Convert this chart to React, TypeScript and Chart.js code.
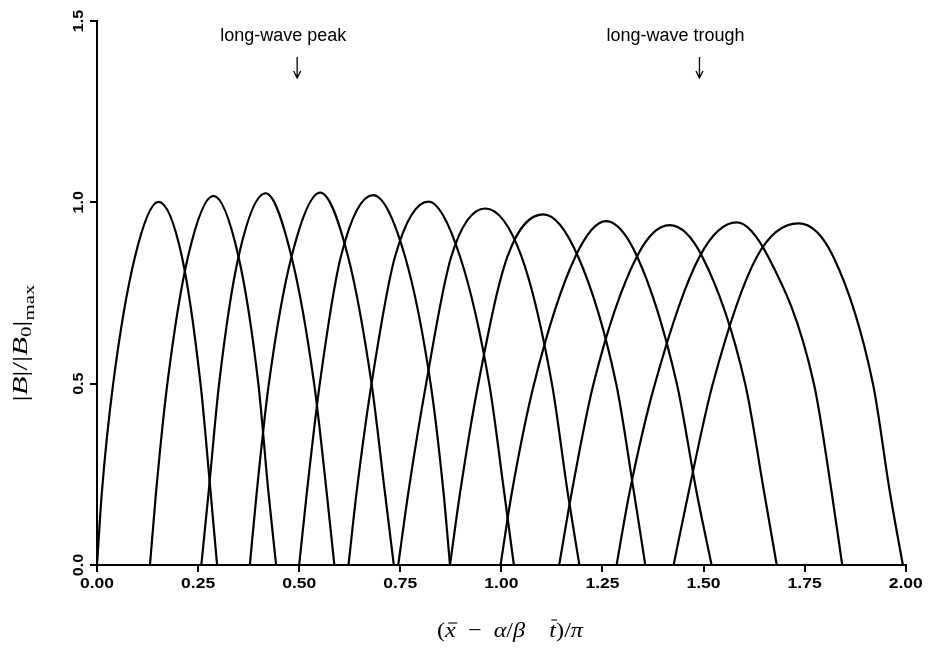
import React, { useEffect, useRef } from "react";
import { Chart, registerables } from "chart.js";

Chart.register(...registerables);

// ---- axis ticks ----
const xTicks = [0, 0.25, 0.5, 0.75, 1.0, 1.25, 1.5, 1.75, 2.0];
const xTickLabels = ["0.00", "0.25", "0.50", "0.75", "1.00", "1.25", "1.50", "1.75", "2.00"];
const yTicks = [0, 0.5, 1.0, 1.5];
const yTickLabels = ["0.0", "0.5", "1.0", "1.5"];

// ---- curve readings (12 arches) ----
// heights at which the rising / falling sides were read
const levels = [0, 0.2, 0.5, 0.85];
const riseX0 = [0.0, 0.131, 0.258, 0.378, 0.5, 0.622, 0.745, 0.873, 0.998, 1.143, 1.285, 1.426];
const riseX20 = [0.012, 0.146, 0.276, 0.395, 0.519, 0.642, 0.77, 0.898, 1.026, 1.174, 1.317, 1.463];
const riseX50 = [0.04, 0.174, 0.302, 0.425, 0.551, 0.679, 0.814, 0.943, 1.081, 1.228, 1.38, 1.523];
const riseX85 = [0.094, 0.225, 0.35, 0.481, 0.603, 0.737, 0.876, 1.015, 1.183, 1.335, 1.49, 1.632];
const peakX = [0.152, 0.288, 0.417, 0.552, 0.683, 0.82, 0.96, 1.104, 1.259, 1.416, 1.582, 1.735];
const peakY = [1.001, 1.018, 1.025, 1.027, 1.02, 1.002, 0.983, 0.967, 0.948, 0.937, 0.945, 0.942];
const fallX85 = [0.21, 0.35, 0.481, 0.621, 0.762, 0.898, 1.05, 1.19, 1.336, 1.497, 1.66, 1.821];
const fallX50 = [0.256, 0.399, 0.537, 0.679, 0.825, 0.97, 1.125, 1.284, 1.434, 1.603, 1.773, 1.919];
const fallX20 = [0.281, 0.424, 0.568, 0.712, 0.857, 1.007, 1.164, 1.328, 1.483, 1.65, 1.817, 1.961];
const fallX0 = [0.297, 0.443, 0.587, 0.734, 0.873, 1.031, 1.193, 1.356, 1.52, 1.681, 1.843, 1.993];

// ---- annotations ----
const annotationLabels = ["long-wave peak", "long-wave trough"];
const annotationX = [0.495, 1.49];
const annotationTextOffset = [-77, -93];

type Piece = { t: string; font: string; dy?: number; over?: number };

function drawPieces(ctx: CanvasRenderingContext2D, pieces: Piece[], target: number) {
  let w = 0;
  const widths = pieces.map((p) => {
    ctx.font = p.font;
    const m = ctx.measureText(p.t).width;
    w += m;
    return m;
  });
  const s = target / w;
  ctx.save();
  ctx.scale(s, 1);
  let x = -w / 2;
  ctx.textAlign = "left";
  ctx.textBaseline = "alphabetic";
  pieces.forEach((p, i) => {
    ctx.font = p.font;
    ctx.fillText(p.t, x, p.dy || 0);
    if (p.over) {
      ctx.beginPath();
      ctx.lineWidth = 1.1;
      ctx.moveTo(x + widths[i] * 0.3, -p.over);
      ctx.lineTo(x + widths[i] * 1.15, -p.over);
      ctx.stroke();
    }
    x += widths[i];
  });
  ctx.restore();
}

const labelPlugin = {
  id: "labelPlugin",
  afterDraw(chart: any) {
    const ctx: CanvasRenderingContext2D = chart.ctx;
    const xs = chart.scales.x;
    const ys = chart.scales.y;
    ctx.save();
    ctx.fillStyle = "#000";
    ctx.strokeStyle = "#000";

    // x tick labels
    xTicks.forEach((v, i) => {
      const px = xs.getPixelForValue(v);
      ctx.save();
      ctx.translate(px, 584);
      ctx.scale(1.25, 1);
      ctx.font = "bold 14px 'Liberation Sans', Arial, sans-serif";
      ctx.textAlign = "center";
      ctx.textBaseline = "middle";
      ctx.fillText(xTickLabels[i], 0, 0);
      ctx.restore();
    });

    // y tick labels (rotated)
    yTicks.forEach((v, i) => {
      const py = ys.getPixelForValue(v);
      ctx.save();
      ctx.translate(79, py);
      ctx.rotate(-Math.PI / 2);
      ctx.scale(1.15, 1);
      ctx.font = "bold 14px 'Liberation Sans', Arial, sans-serif";
      ctx.textAlign = "center";
      ctx.textBaseline = "middle";
      ctx.fillText(yTickLabels[i], 0, 0);
      ctx.restore();
    });

    // x title
    const R = "22px 'Liberation Serif', 'Times New Roman', serif";
    const I = "italic 22px 'Liberation Serif', 'Times New Roman', serif";
    ctx.save();
    ctx.translate(510, 637);
    drawPieces(
      ctx,
      [
        { t: "(", font: R },
        { t: "x", font: I, over: 14 },
        { t: "\u2002\u2212\u2002", font: R },
        { t: "\u03b1", font: I },
        { t: "/", font: R },
        { t: "\u03b2", font: I },
        { t: "\u2003", font: R },
        { t: "t", font: I, over: 17 },
        { t: ")", font: R },
        { t: "/", font: R },
        { t: "\u03c0", font: I },
      ],
      146
    );
    ctx.restore();

    // y title
    const S = "15px 'Liberation Serif', 'Times New Roman', serif";
    ctx.save();
    ctx.translate(27, 343);
    ctx.rotate(-Math.PI / 2);
    drawPieces(
      ctx,
      [
        { t: "|", font: R },
        { t: "B", font: I },
        { t: "|/|", font: R },
        { t: "B", font: I },
        { t: "0", font: S, dy: 4 },
        { t: "|", font: R },
        { t: "max", font: S, dy: 7 },
      ],
      117
    );
    ctx.restore();

    // annotations
    annotationLabels.forEach((label, i) => {
      const ax = xs.getPixelForValue(annotationX[i]);
      ctx.font = "18px 'Liberation Sans', Arial, sans-serif";
      ctx.textAlign = "left";
      ctx.textBaseline = "alphabetic";
      ctx.fillText(label, ax + annotationTextOffset[i], 41);
      ctx.beginPath();
      ctx.lineWidth = 1.3;
      ctx.moveTo(ax, 57);
      ctx.lineTo(ax, 78);
      ctx.moveTo(ax - 3.5, 71);
      ctx.lineTo(ax, 78);
      ctx.lineTo(ax + 3.5, 71);
      ctx.stroke();
    });

    ctx.restore();
  },
};

export default function App() {
  const canvasRef = useRef<HTMLCanvasElement | null>(null);

  useEffect(() => {
    document.body.style.margin = "0";
    const canvas = canvasRef.current;
    if (!canvas) return;

    const datasets = riseX0.map((_, i) => ({
      label: `curve ${i + 1}`,
      data: [
        { x: riseX0[i], y: levels[0] },
        { x: riseX20[i], y: levels[1] },
        { x: riseX50[i], y: levels[2] },
        { x: riseX85[i], y: levels[3] },
        { x: peakX[i], y: peakY[i] },
        { x: fallX85[i], y: levels[3] },
        { x: fallX50[i], y: levels[2] },
        { x: fallX20[i], y: levels[1] },
        { x: fallX0[i], y: levels[0] },
      ],
      borderColor: "#000",
      borderWidth: 2.2,
      pointRadius: 0,
      fill: false,
      cubicInterpolationMode: "monotone" as const,
    }));

    const chart = new Chart(canvas, {
      type: "line",
      data: { datasets },
      options: {
        animation: false,
        responsive: true,
        maintainAspectRatio: false,
        events: [],
        layout: { padding: { top: 21, right: 28.3, left: 0, bottom: 0 } },
        plugins: {
          legend: { display: false },
          tooltip: { enabled: false },
        },
        scales: {
          x: {
            type: "linear",
            min: 0,
            max: 2,
            afterBuildTicks: (s: any) => {
              s.ticks = xTicks.map((v) => ({ value: v }));
            },
            afterFit: (s: any) => {
              s.height = 85;
            },
            ticks: { display: false },
            grid: {
              display: true,
              drawOnChartArea: false,
              drawTicks: true,
              tickLength: 7,
              color: "#000",
              lineWidth: 2,
            },
            border: { display: true, color: "#000", width: 2 },
          },
          y: {
            type: "linear",
            min: 0,
            max: 1.5,
            afterBuildTicks: (s: any) => {
              s.ticks = yTicks.map((v) => ({ value: v }));
            },
            afterFit: (s: any) => {
              s.width = 97;
            },
            ticks: { display: false },
            grid: {
              display: true,
              drawOnChartArea: false,
              drawTicks: true,
              tickLength: 7,
              color: "#000",
              lineWidth: 2,
            },
            border: { display: true, color: "#000", width: 2 },
          },
        },
      },
      plugins: [labelPlugin],
    });

    return () => chart.destroy();
  }, []);

  return (
    <div style={{ position: "relative", width: "934px", height: "650px", background: "#fff" }}>
      <canvas ref={canvasRef} />
    </div>
  );
}
